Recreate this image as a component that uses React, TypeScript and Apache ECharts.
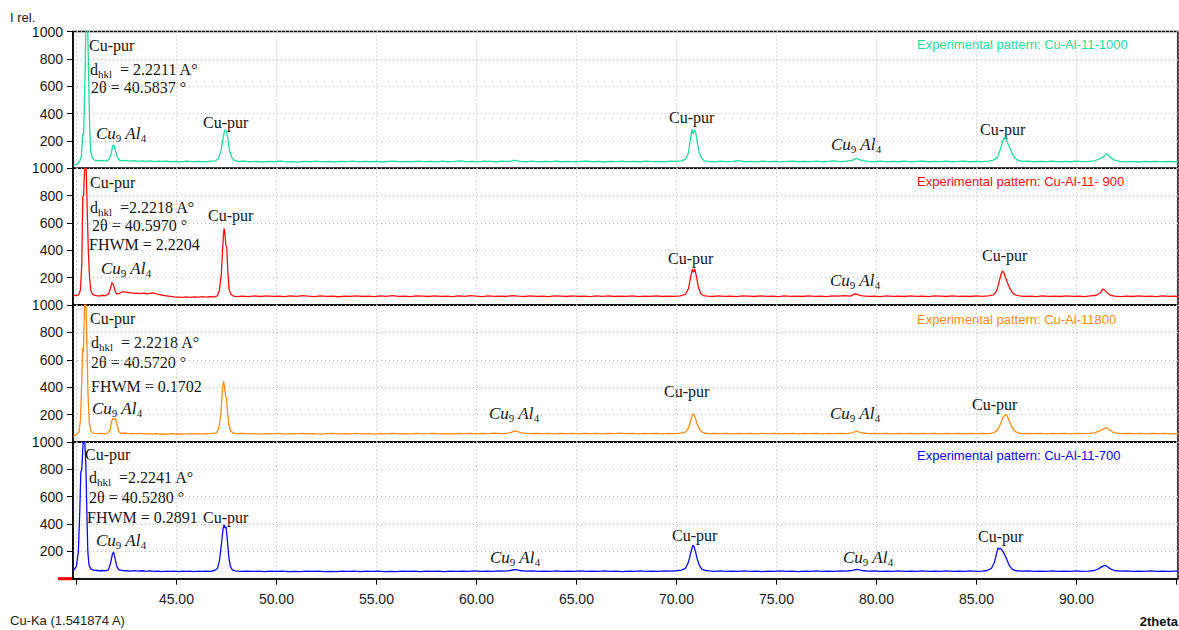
import { useEffect, useRef } from "react";
import * as echarts from "echarts";

// ---- Axis ranges -------------------------------------------------------
const X_MIN = 39.83;
const X_MAX = 95.08;
const X_LABEL_FROM = 45;
const X_LABEL_TO = 90;
const Y_MIN = 0;
const Y_MAX = 1000;
const Y_STEP = 200;

// ---- Samples -----------------------------------------------------------
const sampleNames = ["Cu-Al-11-1000", "Cu-Al-11- 900", "Cu-Al-11800", "Cu-Al-11-700"];
const sampleColors = ["#1fdd9b", "#ff1010", "#ff8c1a", "#0a0aff"];

// Diffraction patterns: [2theta, I rel.]
const pattern1000 = [
  [39.85, 22], [40.0, 28], [40.15, 45], [40.25, 90], [40.32, 250], [40.36, 240], [40.42, 600], [40.47, 1000], [40.52, 1080], [40.57, 1000], [40.62, 600], [40.67, 260], [40.72, 120], [40.8, 75], [40.9, 60],
  [41.0, 57], [41.15, 54], [41.3, 58], [41.45, 52], [41.6, 60], [41.72, 95], [41.82, 165], [41.88, 170], [41.95, 130], [42.05, 80], [42.15, 60], [42.3, 55], [42.5, 58], [42.7, 53], [42.9, 56],
  [43.1, 51], [43.3, 55], [43.5, 50], [43.7, 54], [43.9, 49], [44.1, 52], [44.3, 50], [44.5, 53], [44.7, 48], [44.9, 51], [45.2, 47], [45.5, 52], [45.8, 49], [46.1, 51], [46.4, 47], [46.7, 52],
  [46.95, 55], [47.1, 70], [47.22, 120], [47.33, 220], [47.42, 280], [47.5, 270], [47.58, 210], [47.66, 130], [47.76, 80], [47.9, 58], [48.1, 50], [48.4, 53], [48.7, 47], [49.0, 51], [49.3, 46],
  [49.6, 50], [49.9, 48], [50.2, 52], [50.5, 47], [50.8, 49], [51.1, 45], [51.4, 50], [51.7, 48], [52.0, 52], [52.3, 47], [52.6, 50], [52.9, 46], [53.2, 51], [53.5, 49], [53.8, 53], [54.1, 47],
  [54.4, 50], [54.7, 48], [55.0, 51], [55.3, 46], [55.6, 50], [55.9, 52], [56.2, 47], [56.5, 50], [56.8, 48], [57.1, 53], [57.4, 49], [57.7, 51], [58.0, 47], [58.3, 52], [58.6, 48], [58.9, 50],
  [59.2, 55], [59.5, 49], [59.8, 51], [60.1, 47], [60.4, 52], [60.7, 50], [61.0, 48], [61.3, 53], [61.6, 49], [61.9, 58], [62.2, 51], [62.5, 48], [62.8, 52], [63.1, 47], [63.4, 50], [63.7, 49],
  [64.0, 53], [64.3, 48], [64.6, 51], [64.9, 47], [65.2, 50], [65.5, 53], [65.8, 48], [66.1, 51], [66.4, 46], [66.7, 50], [67.0, 49], [67.3, 52], [67.6, 47], [67.9, 50], [68.2, 48], [68.5, 53],
  [68.8, 49], [69.1, 51], [69.4, 47], [69.7, 52], [70.0, 50], [70.25, 55], [70.45, 65], [70.6, 110], [70.72, 230], [70.78, 285], [70.84, 250], [70.9, 280], [70.97, 260], [71.05, 180], [71.15, 110],
  [71.28, 70], [71.4, 55], [71.6, 50], [71.9, 47], [72.2, 52], [72.5, 49], [72.8, 51], [73.1, 56], [73.4, 48], [73.7, 50], [74.0, 47], [74.3, 52], [74.6, 49], [74.9, 51], [75.2, 47], [75.5, 50],
  [75.8, 53], [76.1, 48], [76.4, 51], [76.7, 49], [77.0, 52], [77.3, 47], [77.6, 50], [77.9, 54], [78.2, 49], [78.5, 52], [78.8, 58], [79.0, 72], [79.1, 66], [79.3, 56], [79.6, 50], [79.9, 48],
  [80.2, 52], [80.5, 47], [80.8, 50], [81.1, 48], [81.4, 52], [81.7, 47], [82.0, 50], [82.3, 53], [82.6, 48], [82.9, 51], [83.2, 49], [83.5, 52], [83.8, 48], [84.1, 50], [84.4, 53], [84.7, 48],
  [85.0, 51], [85.3, 49], [85.6, 53], [85.85, 60], [86.05, 80], [86.2, 140], [86.32, 200], [86.42, 230], [86.5, 210], [86.58, 180], [86.7, 140], [86.82, 100], [86.95, 72], [87.1, 58], [87.3, 50],
  [87.6, 53], [87.9, 48], [88.2, 51], [88.5, 49], [88.8, 52], [89.1, 47], [89.4, 50], [89.7, 48], [90.0, 52], [90.3, 49], [90.6, 51], [90.9, 55], [91.15, 68], [91.35, 85], [91.5, 105], [91.6, 95],
  [91.75, 72], [91.95, 58], [92.2, 50], [92.5, 47], [92.8, 51], [93.1, 46], [93.4, 50], [93.7, 48], [94.0, 51], [94.3, 47], [94.6, 50], [94.9, 48], [95.08, 49],
];

const pattern900 = [
  [39.85, 70], [40.0, 72], [40.12, 75], [40.2, 110], [40.27, 300], [40.32, 790], [40.36, 800], [40.4, 960], [40.44, 1060], [40.49, 1000], [40.54, 700], [40.6, 380], [40.66, 200], [40.72, 110],
  [40.8, 80], [40.9, 72], [41.0, 70], [41.15, 66], [41.3, 72], [41.45, 68], [41.6, 80], [41.7, 120], [41.78, 165], [41.85, 150], [41.93, 105], [42.02, 80], [42.15, 85], [42.3, 98], [42.45, 95],
  [42.6, 92], [42.75, 90], [42.9, 86], [43.05, 88], [43.2, 84], [43.35, 88], [43.5, 83], [43.65, 86], [43.8, 90], [43.95, 84], [44.1, 78], [44.3, 72], [44.5, 68], [44.7, 64], [44.9, 60], [45.1, 58],
  [45.3, 56], [45.5, 60], [45.7, 57], [45.9, 60], [46.1, 58], [46.3, 62], [46.5, 59], [46.7, 61], [46.9, 60], [47.05, 68], [47.15, 110], [47.25, 230], [47.32, 440], [47.38, 560], [47.42, 540],
  [47.47, 440], [47.52, 420], [47.57, 250], [47.63, 120], [47.72, 80], [47.85, 66], [48.0, 62], [48.3, 66], [48.6, 62], [48.9, 67], [49.2, 63], [49.5, 68], [49.8, 64], [50.1, 66], [50.4, 62],
  [50.7, 67], [51.0, 64], [51.3, 69], [51.6, 65], [51.9, 62], [52.2, 67], [52.5, 64], [52.8, 66], [53.1, 61], [53.4, 66], [53.7, 64], [54.0, 68], [54.3, 63], [54.6, 66], [54.9, 62], [55.2, 67],
  [55.5, 64], [55.8, 70], [56.1, 63], [56.4, 66], [56.7, 62], [57.0, 67], [57.3, 65], [57.6, 63], [57.9, 68], [58.2, 64], [58.5, 66], [58.8, 62], [59.1, 67], [59.4, 64], [59.7, 69], [60.0, 65],
  [60.3, 62], [60.6, 67], [60.9, 64], [61.2, 66], [61.5, 63], [61.8, 70], [62.1, 66], [62.4, 63], [62.7, 67], [63.0, 64], [63.3, 66], [63.6, 62], [63.9, 67], [64.2, 65], [64.5, 63], [64.8, 68],
  [65.1, 64], [65.4, 66], [65.7, 62], [66.0, 67], [66.3, 64], [66.6, 68], [66.9, 63], [67.2, 66], [67.5, 64], [67.8, 67], [68.1, 62], [68.4, 66], [68.7, 64], [69.0, 68], [69.3, 63], [69.6, 66],
  [69.9, 64], [70.2, 68], [70.45, 78], [70.6, 120], [70.72, 210], [70.8, 262], [70.86, 240], [70.92, 265], [71.0, 210], [71.1, 130], [71.22, 85], [71.35, 70], [71.55, 66], [71.8, 63], [72.1, 67],
  [72.4, 64], [72.7, 66], [73.0, 62], [73.3, 67], [73.6, 65], [73.9, 63], [74.2, 68], [74.5, 64], [74.8, 66], [75.1, 62], [75.4, 67], [75.7, 64], [76.0, 66], [76.3, 63], [76.6, 68], [76.9, 64],
  [77.2, 66], [77.5, 62], [77.8, 67], [78.1, 65], [78.4, 69], [78.7, 66], [78.95, 82], [79.1, 75], [79.3, 68], [79.6, 64], [79.9, 66], [80.2, 62], [80.5, 67], [80.8, 64], [81.1, 66], [81.4, 63],
  [81.7, 68], [82.0, 64], [82.3, 66], [82.6, 62], [82.9, 67], [83.2, 65], [83.5, 63], [83.8, 68], [84.1, 64], [84.4, 66], [84.7, 63], [85.0, 67], [85.3, 64], [85.6, 68], [85.85, 75], [86.0, 100],
  [86.12, 160], [86.22, 220], [86.3, 250], [86.38, 235], [86.46, 200], [86.56, 160], [86.68, 120], [86.8, 90], [86.95, 74], [87.15, 67], [87.4, 64], [87.7, 66], [88.0, 62], [88.3, 67], [88.6, 64],
  [88.9, 66], [89.2, 63], [89.5, 68], [89.8, 64], [90.1, 66], [90.4, 62], [90.7, 67], [91.0, 72], [91.2, 90], [91.32, 118], [91.42, 110], [91.55, 88], [91.7, 72], [91.9, 65], [92.2, 62], [92.5, 66],
  [92.8, 63], [93.1, 67], [93.4, 64], [93.7, 66], [94.0, 62], [94.3, 67], [94.6, 64], [94.9, 66], [95.08, 63],
];

const pattern800 = [
  [39.85, 40], [40.0, 55], [40.12, 70], [40.2, 150], [40.27, 450], [40.31, 690], [40.35, 660], [40.39, 900], [40.43, 1060], [40.48, 1000], [40.53, 700], [40.58, 350], [40.64, 150], [40.72, 80],
  [40.82, 64], [40.95, 62], [41.1, 60], [41.25, 63], [41.4, 59], [41.55, 62], [41.68, 85], [41.76, 150], [41.82, 170], [41.9, 165], [41.96, 170], [42.04, 120], [42.12, 75], [42.25, 62], [42.4, 65],
  [42.6, 60], [42.8, 63], [43.0, 59], [43.2, 62], [43.4, 58], [43.6, 61], [43.8, 57], [44.0, 60], [44.2, 56], [44.4, 59], [44.6, 57], [44.8, 60], [45.0, 56], [45.2, 59], [45.4, 57], [45.6, 60],
  [45.8, 58], [46.0, 61], [46.2, 57], [46.4, 60], [46.6, 58], [46.8, 62], [47.0, 66], [47.12, 100], [47.22, 200], [47.3, 380], [47.36, 445], [47.41, 400], [47.46, 330], [47.5, 325], [47.55, 230],
  [47.62, 120], [47.72, 78], [47.85, 64], [48.0, 60], [48.3, 62], [48.6, 58], [48.9, 61], [49.2, 57], [49.5, 60], [49.8, 58], [50.1, 62], [50.4, 57], [50.7, 60], [51.0, 58], [51.3, 62], [51.6, 59],
  [51.9, 61], [52.2, 57], [52.5, 60], [52.8, 63], [53.1, 58], [53.4, 61], [53.7, 59], [54.0, 62], [54.3, 58], [54.6, 60], [54.9, 57], [55.2, 61], [55.5, 59], [55.8, 63], [56.1, 58], [56.4, 61],
  [56.7, 59], [57.0, 62], [57.3, 58], [57.6, 60], [57.9, 63], [58.2, 59], [58.5, 61], [58.8, 58], [59.1, 62], [59.4, 60], [59.7, 63], [60.0, 59], [60.3, 62], [60.6, 60], [60.9, 64], [61.2, 61],
  [61.5, 63], [61.75, 70], [61.9, 80], [62.05, 76], [62.2, 68], [62.4, 64], [62.7, 61], [63.0, 63], [63.3, 60], [63.6, 62], [63.9, 59], [64.2, 62], [64.5, 60], [64.8, 63], [65.1, 59], [65.4, 62],
  [65.7, 60], [66.0, 63], [66.3, 59], [66.6, 62], [66.9, 60], [67.2, 64], [67.5, 60], [67.8, 62], [68.1, 59], [68.4, 63], [68.7, 60], [69.0, 62], [69.3, 59], [69.6, 63], [69.9, 61], [70.2, 64],
  [70.45, 72], [70.6, 100], [70.72, 160], [70.8, 200], [70.86, 205], [70.93, 180], [71.02, 140], [71.12, 100], [71.25, 75], [71.4, 65], [71.6, 61], [71.9, 63], [72.2, 60], [72.5, 62], [72.8, 59],
  [73.1, 63], [73.4, 60], [73.7, 62], [74.0, 59], [74.3, 63], [74.6, 60], [74.9, 62], [75.2, 59], [75.5, 61], [75.8, 63], [76.1, 59], [76.4, 62], [76.7, 60], [77.0, 63], [77.3, 59], [77.6, 62],
  [77.9, 60], [78.2, 63], [78.5, 61], [78.8, 66], [79.0, 78], [79.15, 72], [79.35, 65], [79.6, 61], [79.9, 63], [80.2, 60], [80.5, 62], [80.8, 59], [81.1, 63], [81.4, 60], [81.7, 62], [82.0, 59],
  [82.3, 63], [82.6, 60], [82.9, 62], [83.2, 59], [83.5, 63], [83.8, 60], [84.1, 62], [84.4, 59], [84.7, 62], [85.0, 60], [85.3, 63], [85.6, 61], [85.85, 66], [86.05, 85], [86.2, 130], [86.32, 175],
  [86.42, 195], [86.5, 200], [86.58, 175], [86.68, 140], [86.8, 100], [86.95, 75], [87.1, 65], [87.3, 61], [87.6, 63], [87.9, 60], [88.2, 62], [88.5, 59], [88.8, 63], [89.1, 60], [89.4, 62],
  [89.7, 59], [90.0, 63], [90.3, 60], [90.6, 62], [90.9, 66], [91.15, 78], [91.35, 95], [91.5, 104], [91.62, 92], [91.8, 74], [92.0, 64], [92.3, 61], [92.6, 63], [92.9, 60], [93.2, 62], [93.5, 59],
  [93.8, 63], [94.1, 60], [94.4, 62], [94.7, 59], [95.08, 61],
];

const pattern700 = [
  [39.85, 60], [40.0, 90], [40.1, 200], [40.17, 500], [40.22, 780], [40.27, 800], [40.32, 950], [40.37, 1060], [40.42, 1000], [40.47, 850], [40.52, 500], [40.57, 200], [40.63, 100], [40.72, 72],
  [40.85, 62], [41.0, 60], [41.15, 58], [41.3, 60], [41.45, 57], [41.6, 65], [41.7, 110], [41.8, 180], [41.86, 195], [41.93, 150], [42.02, 90], [42.12, 65], [42.3, 60], [42.5, 58], [42.7, 56],
  [42.9, 59], [43.1, 55], [43.3, 58], [43.5, 54], [43.7, 57], [43.9, 53], [44.1, 56], [44.3, 52], [44.5, 55], [44.7, 53], [44.9, 56], [45.1, 52], [45.3, 55], [45.5, 53], [45.7, 56], [45.9, 52],
  [46.1, 55], [46.3, 53], [46.5, 56], [46.7, 54], [46.9, 60], [47.05, 75], [47.15, 130], [47.25, 250], [47.33, 360], [47.38, 395], [47.43, 370], [47.48, 380], [47.55, 280], [47.62, 160], [47.7, 90],
  [47.8, 64], [47.95, 57], [48.2, 54], [48.5, 56], [48.8, 53], [49.1, 55], [49.4, 52], [49.7, 56], [50.0, 53], [50.3, 55], [50.6, 51], [50.9, 54], [51.2, 52], [51.5, 56], [51.8, 53], [52.1, 55],
  [52.4, 52], [52.7, 54], [53.0, 51], [53.3, 55], [53.6, 53], [53.9, 56], [54.2, 52], [54.5, 55], [54.8, 53], [55.1, 56], [55.4, 52], [55.7, 54], [56.0, 51], [56.3, 55], [56.6, 53], [56.9, 56],
  [57.2, 52], [57.5, 55], [57.8, 53], [58.1, 56], [58.4, 52], [58.7, 55], [59.0, 53], [59.3, 56], [59.6, 54], [59.9, 57], [60.2, 53], [60.5, 56], [60.8, 54], [61.1, 57], [61.4, 55], [61.7, 60],
  [61.9, 66], [62.05, 64], [62.25, 58], [62.5, 55], [62.8, 57], [63.1, 53], [63.4, 56], [63.7, 54], [64.0, 57], [64.3, 53], [64.6, 56], [64.9, 54], [65.2, 57], [65.5, 53], [65.8, 56], [66.1, 54],
  [66.4, 57], [66.7, 53], [67.0, 55], [67.3, 52], [67.6, 56], [67.9, 54], [68.2, 57], [68.5, 53], [68.8, 56], [69.1, 54], [69.4, 57], [69.7, 55], [70.0, 58], [70.25, 62], [70.45, 75], [70.6, 120],
  [70.72, 190], [70.82, 245], [70.88, 235], [70.95, 200], [71.05, 140], [71.15, 95], [71.28, 68], [71.45, 60], [71.65, 57], [71.9, 54], [72.2, 57], [72.5, 53], [72.8, 56], [73.1, 54], [73.4, 57],
  [73.7, 53], [74.0, 55], [74.3, 52], [74.6, 56], [74.9, 54], [75.2, 57], [75.5, 53], [75.8, 55], [76.1, 52], [76.4, 56], [76.7, 54], [77.0, 57], [77.3, 53], [77.6, 56], [77.9, 54], [78.2, 57],
  [78.5, 55], [78.8, 60], [79.0, 68], [79.15, 64], [79.35, 58], [79.6, 55], [79.9, 57], [80.2, 53], [80.5, 56], [80.8, 54], [81.1, 57], [81.4, 53], [81.7, 56], [82.0, 54], [82.3, 57], [82.6, 53],
  [82.9, 56], [83.2, 54], [83.5, 57], [83.8, 53], [84.1, 56], [84.4, 54], [84.7, 57], [85.0, 54], [85.3, 56], [85.55, 60], [85.75, 75], [85.9, 120], [86.0, 180], [86.08, 225], [86.15, 215],
  [86.22, 220], [86.3, 205], [86.4, 180], [86.52, 140], [86.65, 95], [86.8, 68], [87.0, 58], [87.3, 55], [87.6, 57], [87.9, 53], [88.2, 56], [88.5, 54], [88.8, 57], [89.1, 53], [89.4, 56],
  [89.7, 54], [90.0, 57], [90.3, 53], [90.6, 56], [90.9, 60], [91.1, 72], [91.3, 90], [91.42, 98], [91.55, 88], [91.7, 72], [91.9, 60], [92.2, 55], [92.5, 57], [92.8, 53], [93.1, 56], [93.4, 54],
  [93.7, 57], [94.0, 53], [94.3, 56], [94.6, 54], [95.08, 55],
];

const patterns = [pattern1000, pattern900, pattern800, pattern700];

// Peak fit results printed in each panel
const dhklValues = ["= 2.2211 A°", "=2.2218 A°", "= 2.2218 A°", "=2.2241 A°"];
const twoThetaValues = ["2θ = 40.5837 °", "2θ = 40.5970 °", "2θ = 40.5720 °", "2θ = 40.5280 °"];
const fwhmValues = [null, "FHWM = 2.2204", "FHWM = 0.1702", "FHWM = 0.2891"];

// ---- Layout ------------------------------------------------------------
const CHART_W = 1179;
const CHART_H = 630;
const PLOT_LEFT = 73;
const PLOT_RIGHT = 1;
const PANEL_TOP = 31.5;
const PANEL_H = 136.8;

// Text block anchors (left x, middle y) for each panel
const infoLayout = [
  { cu: [89, 45], d: [90, 69], t: [91, 87], f: null, al: [96, 133] },
  { cu: [90, 182], d: [90, 207], t: [92, 225], f: [89, 244], al: [101, 268] },
  { cu: [90, 318], d: [91, 342], t: [91, 362], f: [91, 386], al: [92, 408] },
  { cu: [85, 454], d: [89, 477], t: [89, 497], f: [87, 517], al: [96, 540] },
];
// Phase labels above individual reflections
const peakLabels = [
  [["Cu-pur", 203, 122], ["Cu-pur", 669, 117], ["Cu9Al4", 831, 144], ["Cu-pur", 980, 129]],
  [["Cu-pur", 208, 215], ["Cu-pur", 668, 258], ["Cu9Al4", 830, 280], ["Cu-pur", 982, 255]],
  [["Cu9Al4", 489, 413], ["Cu-pur", 664, 391], ["Cu9Al4", 830, 413], ["Cu-pur", 972, 404]],
  [["Cu-pur", 203, 517], ["Cu9Al4", 490, 557], ["Cu-pur", 672, 535], ["Cu9Al4", 843, 557], ["Cu-pur", 978, 536]],
];
const legendX = 917;
const legendY = [44, 181, 319, 455];

const SERIF = "'Liberation Serif', 'Times New Roman', serif";
const SANS = "'Liberation Sans', Arial, sans-serif";
const INK = "#151515";

const richStyles = {
  n: { fontFamily: SERIF, fontSize: 16, lineHeight: 20, fill: INK, color: INK },
  s: { fontFamily: SERIF, fontSize: 11, lineHeight: 12, verticalAlign: "bottom", fill: INK, color: INK },
  i: { fontFamily: SERIF, fontSize: 17, fontStyle: "italic", lineHeight: 20, fill: INK, color: INK },
  is: { fontFamily: SERIF, fontSize: 11, lineHeight: 12, verticalAlign: "bottom", fill: INK, color: INK },
};

function textEl(text: string, x: number, y: number, extra: any = {}) {
  return {
    type: "text",
    x,
    y,
    silent: true,
    style: {
      text,
      fill: INK,
      font: `16px ${SERIF}`,
      align: "left",
      verticalAlign: "middle",
      textAlign: "left",
      textVerticalAlign: "middle",
      ...extra,
    },
  };
}

function richEl(text: string, x: number, y: number) {
  return textEl(text, x, y, { rich: richStyles });
}

const phaseRich = "{i|Cu}{is|9}{i| Al}{is|4}";

function buildGraphics() {
  const els: any[] = [];
  infoLayout.forEach((lay, i) => {
    els.push(textEl("Cu-pur", lay.cu[0], lay.cu[1]));
    els.push(richEl(`{n|d}{s|hkl}{n|  ${dhklValues[i]}}`, lay.d[0], lay.d[1]));
    els.push(textEl(twoThetaValues[i], lay.t[0], lay.t[1]));
    if (lay.f && fwhmValues[i]) els.push(textEl(fwhmValues[i] as string, lay.f[0], lay.f[1]));
    els.push(richEl(phaseRich, lay.al[0], lay.al[1]));
    peakLabels[i].forEach(([name, x, y]) => {
      if (name === "Cu9Al4") els.push(richEl(phaseRich, x as number, y as number));
      else els.push(textEl(name as string, x as number, y as number));
    });
    els.push(
      textEl(`Experimental pattern: ${sampleNames[i]}`, legendX, legendY[i], {
        font: `13px ${SANS}`,
        fill: sampleColors[i],
      })
    );
  });
  els.push(textEl("I rel.", 10, 17, { font: `13px ${SANS}`, fill: "#222" }));
  els.push(textEl("Cu-Ka (1.541874 A)", 10, 620, { font: `13px ${SANS}`, fill: "#222" }));
  els.push(
    textEl("2theta", 1178, 621, {
      font: `bold 13px ${SANS}`,
      fill: "#111",
      align: "right",
      textAlign: "right",
    })
  );
  // red origin marker at the bottom-left corner of the lowest panel
  const bottom = PANEL_TOP + PANEL_H * 4;
  els.push({
    type: "line",
    silent: true,
    shape: { x1: 58, y1: bottom, x2: PLOT_LEFT, y2: bottom },
    style: { stroke: "#ff0000", lineWidth: 3 },
  });
  return els;
}

const dotted = { type: [1, 3], color: "#b8b8b8", width: 1 } as any;

function buildOption() {
  const n = patterns.length;
  const grid = patterns.map((_, i) => ({
    left: PLOT_LEFT,
    right: PLOT_RIGHT,
    top: PANEL_TOP + i * PANEL_H,
    height: PANEL_H,
    containLabel: false,
    outerBoundsMode: "none",
    show: true,
    borderColor: "#000",
    borderWidth: 1.5,
    backgroundColor: "transparent",
  }));
  const xAxis = patterns.map((_, i) => {
    const last = i === n - 1;
    return {
      type: "value",
      gridIndex: i,
      min: X_MIN,
      max: X_MAX,
      splitNumber: 11,
      axisLine: { show: last, lineStyle: { color: "#000", width: 1.5 } },
      axisTick: { show: last, length: 6, lineStyle: { color: "#000" } },
      axisLabel: {
        show: last,
        showMinLabel: false,
        showMaxLabel: false,
        margin: 13,
        fontFamily: SANS,
        fontSize: 14,
        color: "#1a1a1a",
        formatter: (v: number) =>
          v >= X_LABEL_FROM - 0.01 && v <= X_LABEL_TO + 0.01 ? v.toFixed(2) : "",
      },
      splitLine: { show: true, lineStyle: dotted },
    };
  });
  const yAxis = patterns.map((_, i) => ({
    type: "value",
    gridIndex: i,
    min: Y_MIN,
    max: Y_MAX,
    interval: Y_STEP,
    axisLine: { show: true, lineStyle: { color: "#000", width: 1.5 } },
    axisTick: { show: true, length: 6, lineStyle: { color: "#000" } },
    axisLabel: {
      showMinLabel: false,
      margin: 10,
      fontFamily: SANS,
      fontSize: 14,
      color: "#1a1a1a",
      formatter: (v: number) => String(v),
    },
    splitLine: { show: true, lineStyle: dotted },
  }));
  const series = patterns.map((data, i) => ({
    type: "line",
    name: sampleNames[i],
    xAxisIndex: i,
    yAxisIndex: i,
    data,
    showSymbol: false,
    silent: true,
    clip: true,
    lineStyle: { color: sampleColors[i], width: 1.3 },
    itemStyle: { color: sampleColors[i] },
  }));
  return {
    animation: false,
    backgroundColor: "#ffffff",
    grid,
    xAxis,
    yAxis,
    series,
    graphic: { elements: buildGraphics() },
  };
}

export default function App() {
  const ref = useRef<HTMLDivElement>(null);
  useEffect(() => {
    document.body.style.margin = "0";
    if (!ref.current) return;
    const chart = echarts.init(ref.current, undefined, { renderer: "svg" });
    chart.setOption(buildOption() as any);
    return () => chart.dispose();
  }, []);
  return <div ref={ref} style={{ width: CHART_W, height: CHART_H }} />;
}
